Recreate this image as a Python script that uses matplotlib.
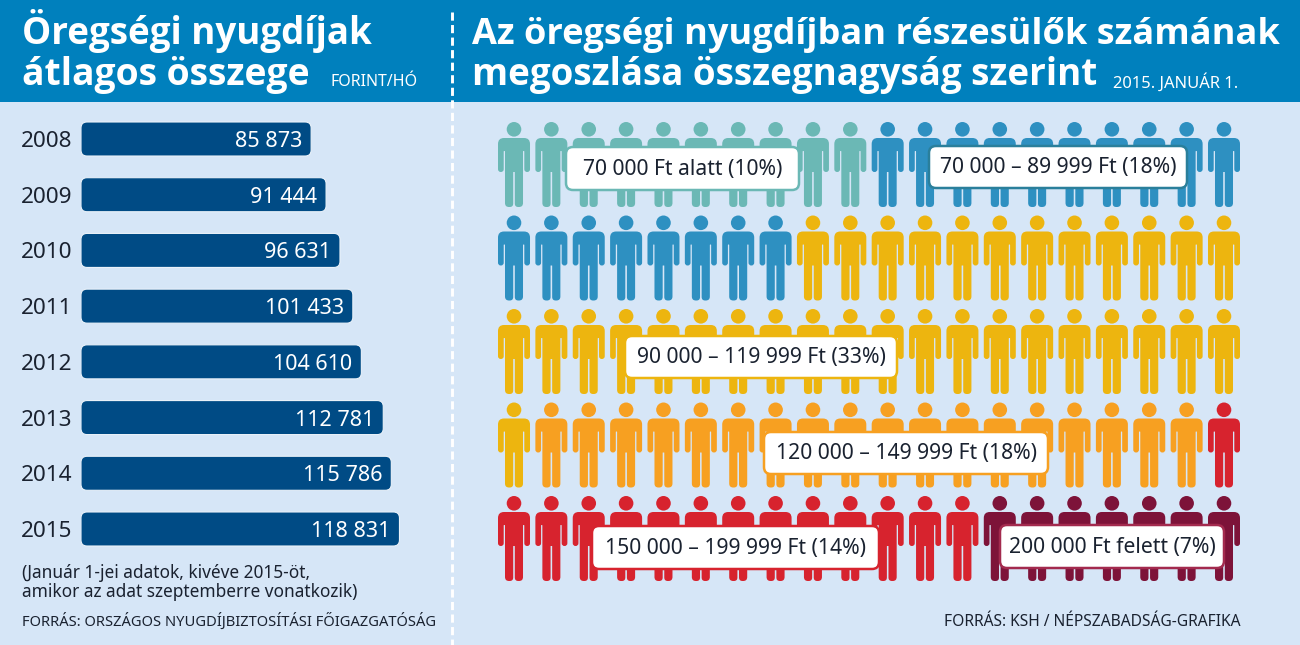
import numpy as np
import matplotlib
matplotlib.use('Agg')
import matplotlib.pyplot as plt
from matplotlib.path import Path
from matplotlib.patches import FancyBboxPatch, Rectangle

plt.rcParams['font.family'] = ['Noto Sans', 'DejaVu Sans']

# Data
years = ['2008', '2009', '2010', '2011', '2012', '2013', '2014', '2015']
pensions = [85873, 91444, 96631, 101433, 104610, 112781, 115786, 118831]
pension_labels = ['85 873', '91 444', '96 631', '101 433', '104 610', '112 781', '115 786', '118 831']

share_labels = ['70 000 Ft alatt (10%)', '70 000 – 89 999 Ft (18%)', '90 000 – 119 999 Ft (33%)',
                '120 000 – 149 999 Ft (18%)', '150 000 – 199 999 Ft (14%)', '200 000 Ft felett (7%)']
shares = [10, 18, 33, 18, 14, 7]

# Colours
HEADER = '#0080BD'
PANEL = '#D6E6F7'
BAR = '#004B85'
INK = '#1A2230'
people_colors = ['#6BB8B5', '#2E90C1', '#EDB50F', '#F7A021', '#D7232E', '#7D1339']
edge_colors = ['#6BB8B5', '#2A7F9B', '#EDB50F', '#F7A021', '#D7232E', '#A32A4E']

W, H = 1300, 645
# label boxes in pixels: left, top, right, bottom
label_boxes = [(566, 147, 799, 190), (929, 146, 1187, 188), (625, 336, 897, 378),
               (764, 432, 1048, 474), (592, 526, 879, 569), (1000, 525, 1224, 568)]


def axes_px(left, top, right, bottom, **kw):
    return fig.add_axes([left / W, 1 - bottom / H, (right - left) / W, (bottom - top) / H], **kw)


def rounded_poly(points):
    # points are (x, y, corner radius)
    verts, codes = [], []
    n = len(points)
    for i, (x, y, r) in enumerate(points):
        p = np.array([x, y], float)
        a = np.array(points[i - 1][:2], float)
        b = np.array(points[(i + 1) % n][:2], float)
        start = p + (a - p) / np.linalg.norm(a - p) * r
        end = p + (b - p) / np.linalg.norm(b - p) * r
        verts.append(start)
        codes.append(Path.MOVETO if i == 0 else Path.LINETO)
        verts += [p, end]
        codes += [Path.CURVE3, Path.CURVE3]
    verts.append(verts[0])
    codes.append(Path.CLOSEPOLY)
    return Path(verts, codes)


def person_marker():
    # drawn in pixels from the top of the head, y pointing down
    right = [(16, 16, 6), (16, 50, 2.8), (10.3, 50, 2.8), (10.3, 29, 0.5),
             (9, 29, 0.5), (9, 85, 4), (0.8, 85, 3.5), (0.8, 50, 0.2)]
    left = [(-x, y, r) for x, y, r in reversed(right)]
    outline = [(x, 42.5 - y, r) for x, y, r in right + left]
    body = rounded_poly(outline)
    head = Path.circle((0, 42.5 - 7.3), 7.3)
    return Path.make_compound_path(body, head)


fig = plt.figure(figsize=(W / 100, H / 100), dpi=100)

# background
ax_bg = axes_px(0, 0, W, H)
ax_bg.set_xlim(0, W)
ax_bg.set_ylim(H, 0)
ax_bg.axis('off')
ax_bg.add_patch(Rectangle((0, 0), W, H, color=PANEL, lw=0))
ax_bg.add_patch(Rectangle((0, 0), W, 102, color=HEADER, lw=0))
ax_bg.plot([451.5, 451.5], [12, H], color='white', lw=2.1, ls=(0, (2.8, 1.5)))

# bars
PX_PER_FT = 0.00268
ROW_PX = 55.7
ax_bar = axes_px(81, 139 - ROW_PX / 2, 81 + 140000 * PX_PER_FT, 529 + ROW_PX / 2, zorder=1)
ax_bar.patch.set_alpha(0)
ax_bar.set_xlim(0, 140000)
ax_bar.set_ylim(len(years) - 0.5, -0.5)
for s in ax_bar.spines.values():
    s.set_visible(False)
ax_bar.set_xticks([])
ax_bar.set_yticks(range(len(years)))
ax_bar.set_yticklabels(years, fontsize=16.2, color=INK)
ax_bar.tick_params(axis='y', length=0, pad=6)
bar_h = 34 / ROW_PX
for i, (v, lab) in enumerate(zip(pensions, pension_labels)):
    ax_bar.add_patch(FancyBboxPatch((0, i - bar_h / 2), v, bar_h,
                                    boxstyle='round,pad=0,rounding_size=%f' % (6 / PX_PER_FT),
                                    mutation_aspect=PX_PER_FT / ROW_PX,
                                    fc=BAR, ec='#EAF2FA', lw=0.8))
    ax_bar.annotate(lab, (v, i), xytext=(-6.3, 0), textcoords='offset points', ha='right', va='center_baseline',
                    color='white', fontsize=15.5)

# people
ax_people = axes_px(514 - 18.68, 164.5 - 46.75, 1224 + 18.68, 538.5 + 46.75, zorder=1)
ax_people.patch.set_alpha(0)
ax_people.set_xlim(-0.5, 19.5)
ax_people.set_ylim(4.5, -0.5)
ax_people.axis('off')
group = np.repeat(np.arange(len(shares)), shares)
rows, cols = np.divmod(np.arange(group.size), 20)
ax_people.scatter(cols, rows, marker=person_marker(), s=(85 * 0.72) ** 2,
                  c=[people_colors[g] for g in group], linewidths=0, clip_on=False)

# texts and label boxes
ax_top = axes_px(0, 0, W, H, zorder=2)
ax_top.patch.set_alpha(0)
ax_top.set_xlim(0, W)
ax_top.set_ylim(H, 0)
ax_top.axis('off')

for (l, t, r, b), lab, ec in zip(label_boxes, share_labels, edge_colors):
    ax_top.add_patch(FancyBboxPatch((l, t), r - l, b - t, boxstyle='round,pad=0,rounding_size=7',
                                    fc='white', ec=ec, lw=1.8))
    ax_top.text((l + r) / 2, (t + b) / 2 + 1, lab, ha='center', va='center', fontsize=15.2, color=INK)

title_kw = dict(color='white', family=['Open Sans', 'DejaVu Sans'], fontweight='bold', va='baseline')
ax_top.text(22, 44, 'Öregségi nyugdíjak', fontsize=26.5, **title_kw)
ax_top.text(22, 85, 'átlagos összege', fontsize=26.8, **title_kw)
ax_top.text(472, 44, 'Az öregségi nyugdíjban részesülők számának', fontsize=26.05, **title_kw)
ax_top.text(472, 85, 'megoszlása összegnagyság szerint', fontsize=26.5, **title_kw)
ax_top.text(330, 86, 'FORINT/HÓ', color='white', fontsize=11.5, va='baseline')
ax_top.text(1113, 88, '2015. JANUÁR 1.', color='white', fontsize=11.9, va='baseline')

ax_top.text(22, 578, '(Január 1-jei adatok, kivéve 2015-öt,', color=INK, fontsize=12.45, va='baseline')
ax_top.text(22, 597, 'amikor az adat szeptemberre vonatkozik)', color=INK, fontsize=12.45, va='baseline')
ax_top.text(22, 626, 'FORRÁS: ORSZÁGOS NYUGDÍJBIZTOSÍTÁSI FŐIGAZGATÓSÁG', color=INK, fontsize=10.6, va='baseline')
ax_top.text(1240, 626, 'FORRÁS: KSH / NÉPSZABADSÁG-GRAFIKA', color=INK, fontsize=11.2, va='baseline', ha='right')

fig.savefig('out.png', dpi=100)
